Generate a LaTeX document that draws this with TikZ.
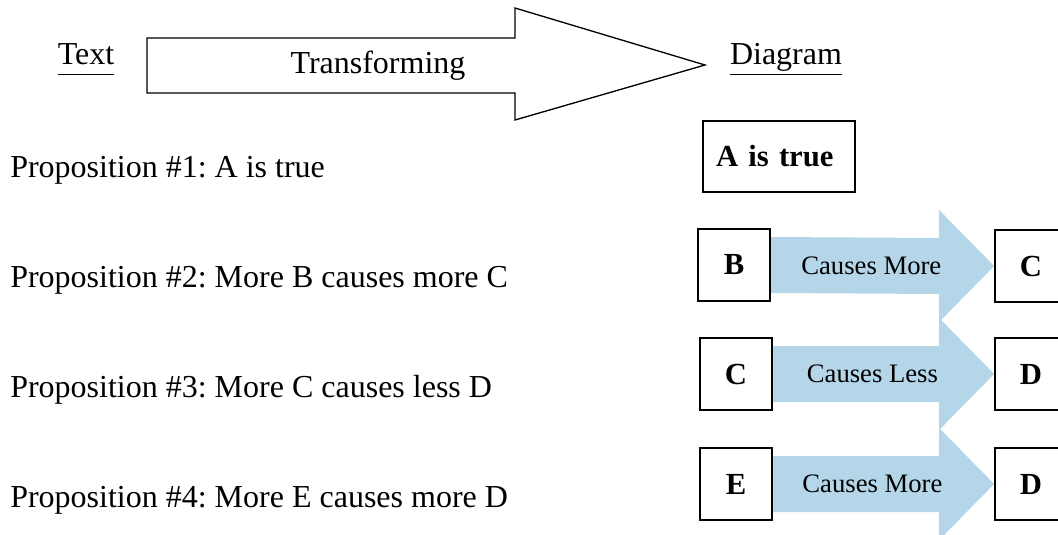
\documentclass[tikz,border=0pt]{standalone}
\usepackage{fontspec}
\setmainfont{Liberation Serif}
\usetikzlibrary{calc,backgrounds}
\frenchspacing

\definecolor{causeblue}{RGB}{180,214,232}

% blue block arrow from one box to the next, label on the shaft
\newcommand\causearrow[3]{%
    \begin{scope}[on background layer]
        \fill[cause] ($(#1.east)+(0,-28)$) -- ($(#2.west)+(-55,-28)$) -- ($(#2.west)+(-55,-56)$)
            -- (#2.west) -- ($(#2.west)+(-55,56)$) -- ($(#2.west)+(-55,28)$) -- ($(#1.east)+(0,28)$) -- cycle;
    \end{scope}
    \node[causetext] (#1-#2) at ($(#1.east)!0.45!(#2.west)$) {#3};
}

\begin{document}
\begin{tikzpicture}[
    x=0.75pt,y=-0.75pt,
    prop/.style={anchor=base west,inner sep=0pt,font=\fontsize{24}{28}\selectfont},
    head/.style={anchor=base,inner sep=0pt,font=\fontsize{24}{28}\selectfont},
    box/.style={rectangle,draw=black,line width=1.3pt,minimum size=54pt,inner sep=0pt,font=\bfseries\fontsize{23}{27}\selectfont},
    cause/.style={fill=causeblue},
    causetext/.style={font=\fontsize{20}{24}\selectfont},
    outline/.style={draw=black,line width=1pt,fill=white},
]
    \useasboundingbox (0,0) rectangle (1058,535);

    % heading
    \draw[outline] (147,38) -- (515,38) -- (515,8) -- (705,65) -- (515,120) -- (515,93) -- (147,93) -- cycle;
    \node[head] (text) at (86,65) {\underline{Text\vphantom{g}}};
    \node[head] (transf) at (378,74) {Transforming};
    \node[head] (diagram) at (786,65) {\underline{Diagram}};

    % propositions
    \node[prop] (p1) at (10,177) {Proposition \#1: A is true};
    \node[prop] (p2) at (10,287) {Proposition \#2: More B causes more C};
    \node[prop] (p3) at (10,397) {Proposition \#3: More C causes less D};
    \node[prop] (p4) at (10,507) {Proposition \#4: More E causes more D};

    % diagram side
    \node[box,minimum width=114pt,minimum height=53.25pt,text width=94.5pt,align=left] (atrue) at (779,156.5) {A is true};

    \node[box] (b) at (734,265) {B};
    \node[box] (c1) at (1031,266) {C};
    \node[box] (c2) at (736,374) {C};
    \node[box] (d1) at (1031,374) {D};
    \node[box] (e) at (736,484) {E};
    \node[box] (d2) at (1031,484) {D};

    \causearrow{b}{c1}{Causes More}
    \causearrow{c2}{d1}{Causes Less}
    \causearrow{e}{d2}{Causes More}
\end{tikzpicture}
\end{document}
